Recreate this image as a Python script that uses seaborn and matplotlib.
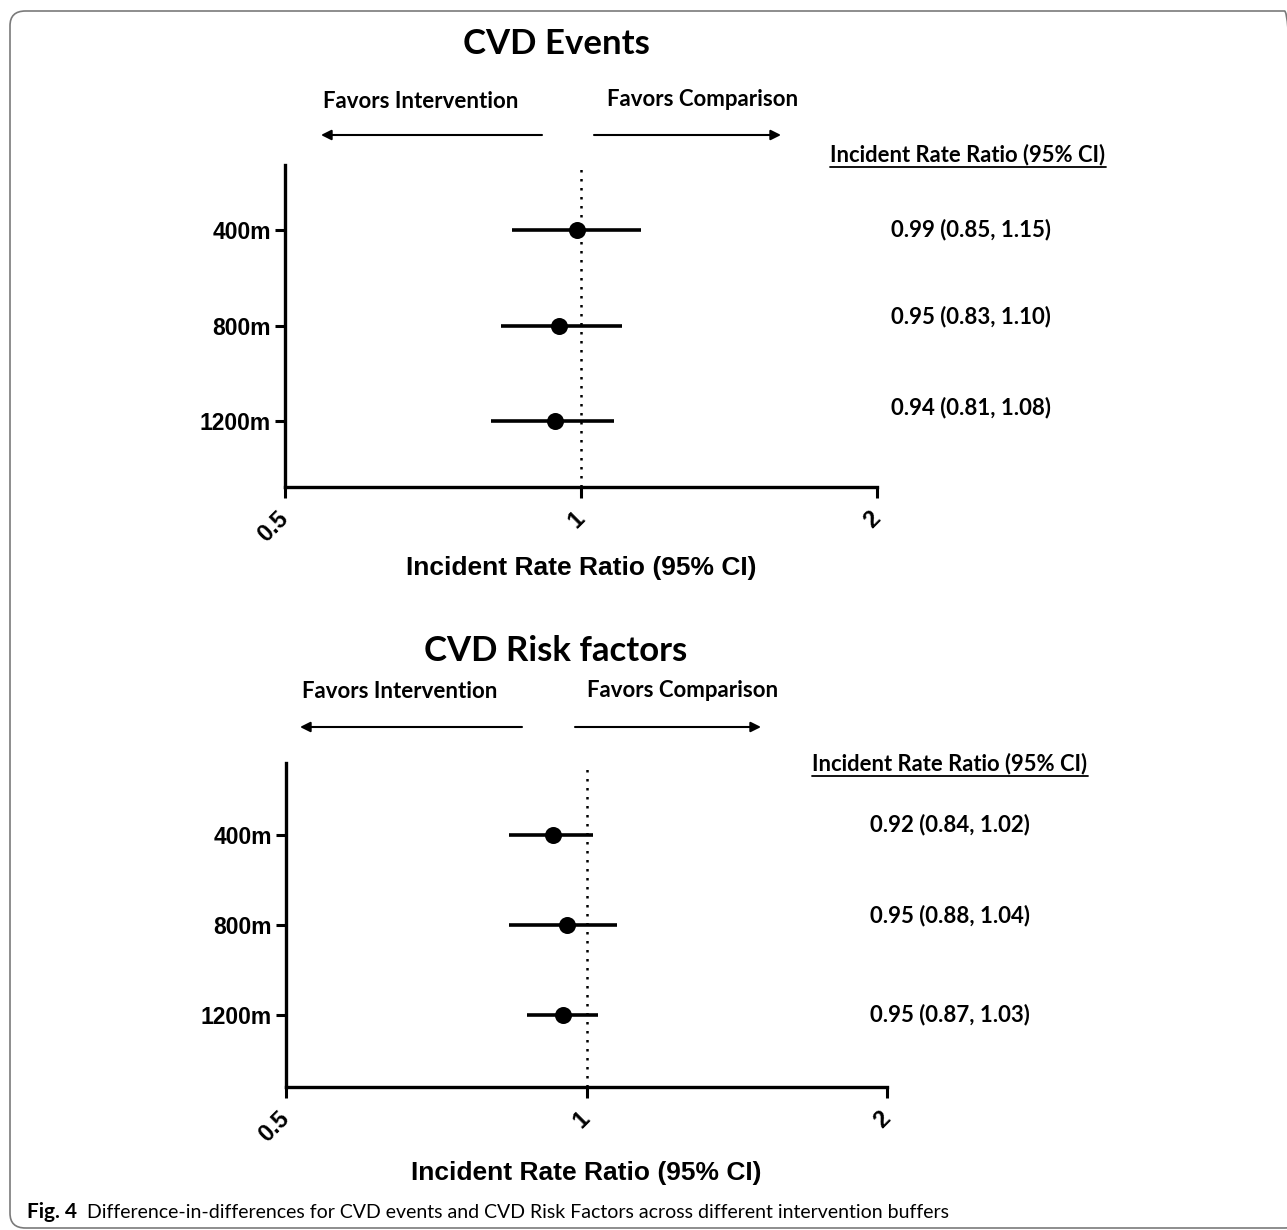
import numpy as np
import pandas as pd
import seaborn as sns
import matplotlib.pyplot as plt
from matplotlib.patches import FancyBboxPatch, FancyArrowPatch
from matplotlib.lines import Line2D

# buffer distances (rows)
buffers = ["400m", "800m", "1200m"]

# CVD events: incident rate ratio and 95% CI
events_irr = [0.99, 0.95, 0.94]
events_low = [0.85, 0.83, 0.81]
events_high = [1.15, 1.10, 1.08]
events_text = ["0.99 (0.85, 1.15)", "0.95 (0.83, 1.10)", "0.94 (0.81, 1.08)"]

# CVD risk factors: values as drawn in the plot
risk_irr = [0.925, 0.955, 0.948]
risk_low = [0.837, 0.837, 0.871]
risk_high = [1.014, 1.074, 1.026]
risk_text = ["0.92 (0.84, 1.02)", "0.95 (0.88, 1.04)", "0.95 (0.87, 1.03)"]

x_ticks = [0.5, 1, 2]
x_tick_labels = ["0.5", "1", "2"]

W, H = 1287, 1230
CAL = "Lato"              # stand-in for Calibri
ARI = "Liberation Sans"   # stand-in for Arial

sns.set_theme(style="ticks")
plt.rcParams["font.family"] = [ARI, "DejaVu Sans"]
plt.rcParams.update({"text.color": "black", "axes.labelcolor": "black",
                     "xtick.color": "black", "ytick.color": "black"})

fig = plt.figure(figsize=(W / 100, H / 100), dpi=100)


def fx(x):
    return x / W


def fy(y):
    return 1 - y / H


def draw_panel(box, irr, low, high, texts, ylim, title, title_y, fav_y, arrow_y,
               arrow_left, arrow_right, fav_left_x, fav_right_x, head_xy, val_x, val_y,
               xlabel_y):
    left, top, right, bottom = box
    df = pd.DataFrame({"buffer": buffers, "pos": np.arange(len(buffers)),
                       "irr": irr, "low": low, "high": high})
    ax = fig.add_axes([fx(left), fy(bottom), fx(right - left), (bottom - top) / H])
    ax.set_xscale("log", base=2)
    ax.axvline(1, color="black", lw=1.8, ls=(0, (1, 2.6)), zorder=1)
    ax.hlines(df["pos"], df["low"], df["high"], color="black", lw=2.6, zorder=2)
    sns.scatterplot(data=df, x="irr", y="pos", ax=ax, color="black", s=150,
                    edgecolor="black", linewidth=0, zorder=3, legend=False)
    ax.set_xlim(0.5, 2)
    ax.set_ylim(*ylim)
    ax.set_yticks(df["pos"])
    ax.set_yticklabels(df["buffer"], fontsize=16.5, fontweight="bold", family=ARI)
    ax.set_xticks(x_ticks)
    ax.set_xticklabels(x_tick_labels, fontsize=17, fontweight="bold", family=ARI,
                       rotation=45, ha="right", va="center", rotation_mode="anchor")
    ax.xaxis.set_minor_locator(plt.NullLocator())
    ax.set_xlabel("Incident Rate Ratio (95% CI)", fontsize=19, fontweight="bold",
                  family=ARI, va="center")
    ax.xaxis.set_label_coords(0.5, -(xlabel_y - bottom) / (bottom - top))
    ax.set_ylabel("")
    sns.despine(ax=ax)
    for side in ["left", "bottom"]:
        ax.spines[side].set_linewidth(2.4)
        ax.spines[side].set_color("black")
    ax.tick_params(axis="y", length=7, width=2.2, color="black", pad=3)
    ax.tick_params(axis="x", length=8, width=2.2, color="black", pad=12)
    ax.set_facecolor("white")

    # title and direction arrows
    fig.text(fx(556), fy(title_y), title, family=CAL, fontweight="bold",
             fontsize=25, ha="center", va="center")
    fig.text(fx(fav_left_x), fy(fav_y), "Favors Intervention", family=CAL,
             fontweight="bold", fontsize=16, ha="left", va="center")
    fig.text(fx(fav_right_x), fy(fav_y - 2), "Favors Comparison", family=CAL,
             fontweight="bold", fontsize=16, ha="left", va="center")
    for x0, x1 in [arrow_left, arrow_right]:
        fig.patches.append(FancyArrowPatch(
            (fx(x0), fy(arrow_y)), (fx(x1), fy(arrow_y)), transform=fig.transFigure,
            arrowstyle="-|>,head_length=6,head_width=3", color="black", lw=1.5,
            mutation_scale=1, shrinkA=0, shrinkB=0))

    # right-hand column of estimates
    head = fig.text(fx(head_xy[0]), fy(head_xy[1]), "Incident Rate Ratio (95% CI)",
                    family=CAL, fontweight="bold", fontsize=15.8, ha="center",
                    va="center")
    fig.canvas.draw()
    bb = head.get_window_extent().transformed(fig.transFigure.inverted())
    fig.add_artist(Line2D([bb.x0, bb.x1], [bb.y0 - 0.001, bb.y0 - 0.001],
                          transform=fig.transFigure, color="black", lw=1.3))
    for t, y in zip(texts, val_y):
        fig.text(fx(val_x), fy(y), t, family=CAL, fontweight="bold", fontsize=16,
                 ha="center", va="center")
    return ax


draw_panel((285, 165, 877, 487),
           events_irr, events_low, events_high, events_text,
           ylim=(2.69, -0.68), title="CVD Events", title_y=44, fav_y=101,
           arrow_y=135, arrow_left=(542, 321), arrow_right=(594, 781),
           fav_left_x=323, fav_right_x=607, head_xy=(968, 155),
           val_x=971, val_y=[230, 317, 408], xlabel_y=568)

draw_panel((286, 763, 887, 1087),
           risk_irr, risk_low, risk_high, risk_text,
           ylim=(2.8, -0.8), title="CVD Risk factors", title_y=651, fav_y=692,
           arrow_y=727, arrow_left=(522, 300), arrow_right=(575, 761),
           fav_left_x=302, fav_right_x=587, head_xy=(950, 764),
           val_x=950, val_y=[825, 916, 1015], xlabel_y=1173)

# caption
fig.text(fx(27), fy(1212), "Fig. 4", family=CAL, fontweight="bold", fontsize=15,
         ha="left", va="center")
fig.text(fx(87), fy(1212),
         "Difference-in-differences for CVD events and CVD Risk Factors across different intervention buffers",
         family=CAL, fontsize=14, ha="left", va="center")

# rounded frame around the figure
fig.patches.append(FancyBboxPatch((fx(10), fy(1228)), fx(1300 - 10), (1228 - 11) / H,
                                  boxstyle="round,pad=0,rounding_size=0.012",
                                  transform=fig.transFigure, facecolor="none",
                                  edgecolor="#7a7a7a", lw=1.2, zorder=0))

fig.savefig("out.png", dpi=100, facecolor="white")
